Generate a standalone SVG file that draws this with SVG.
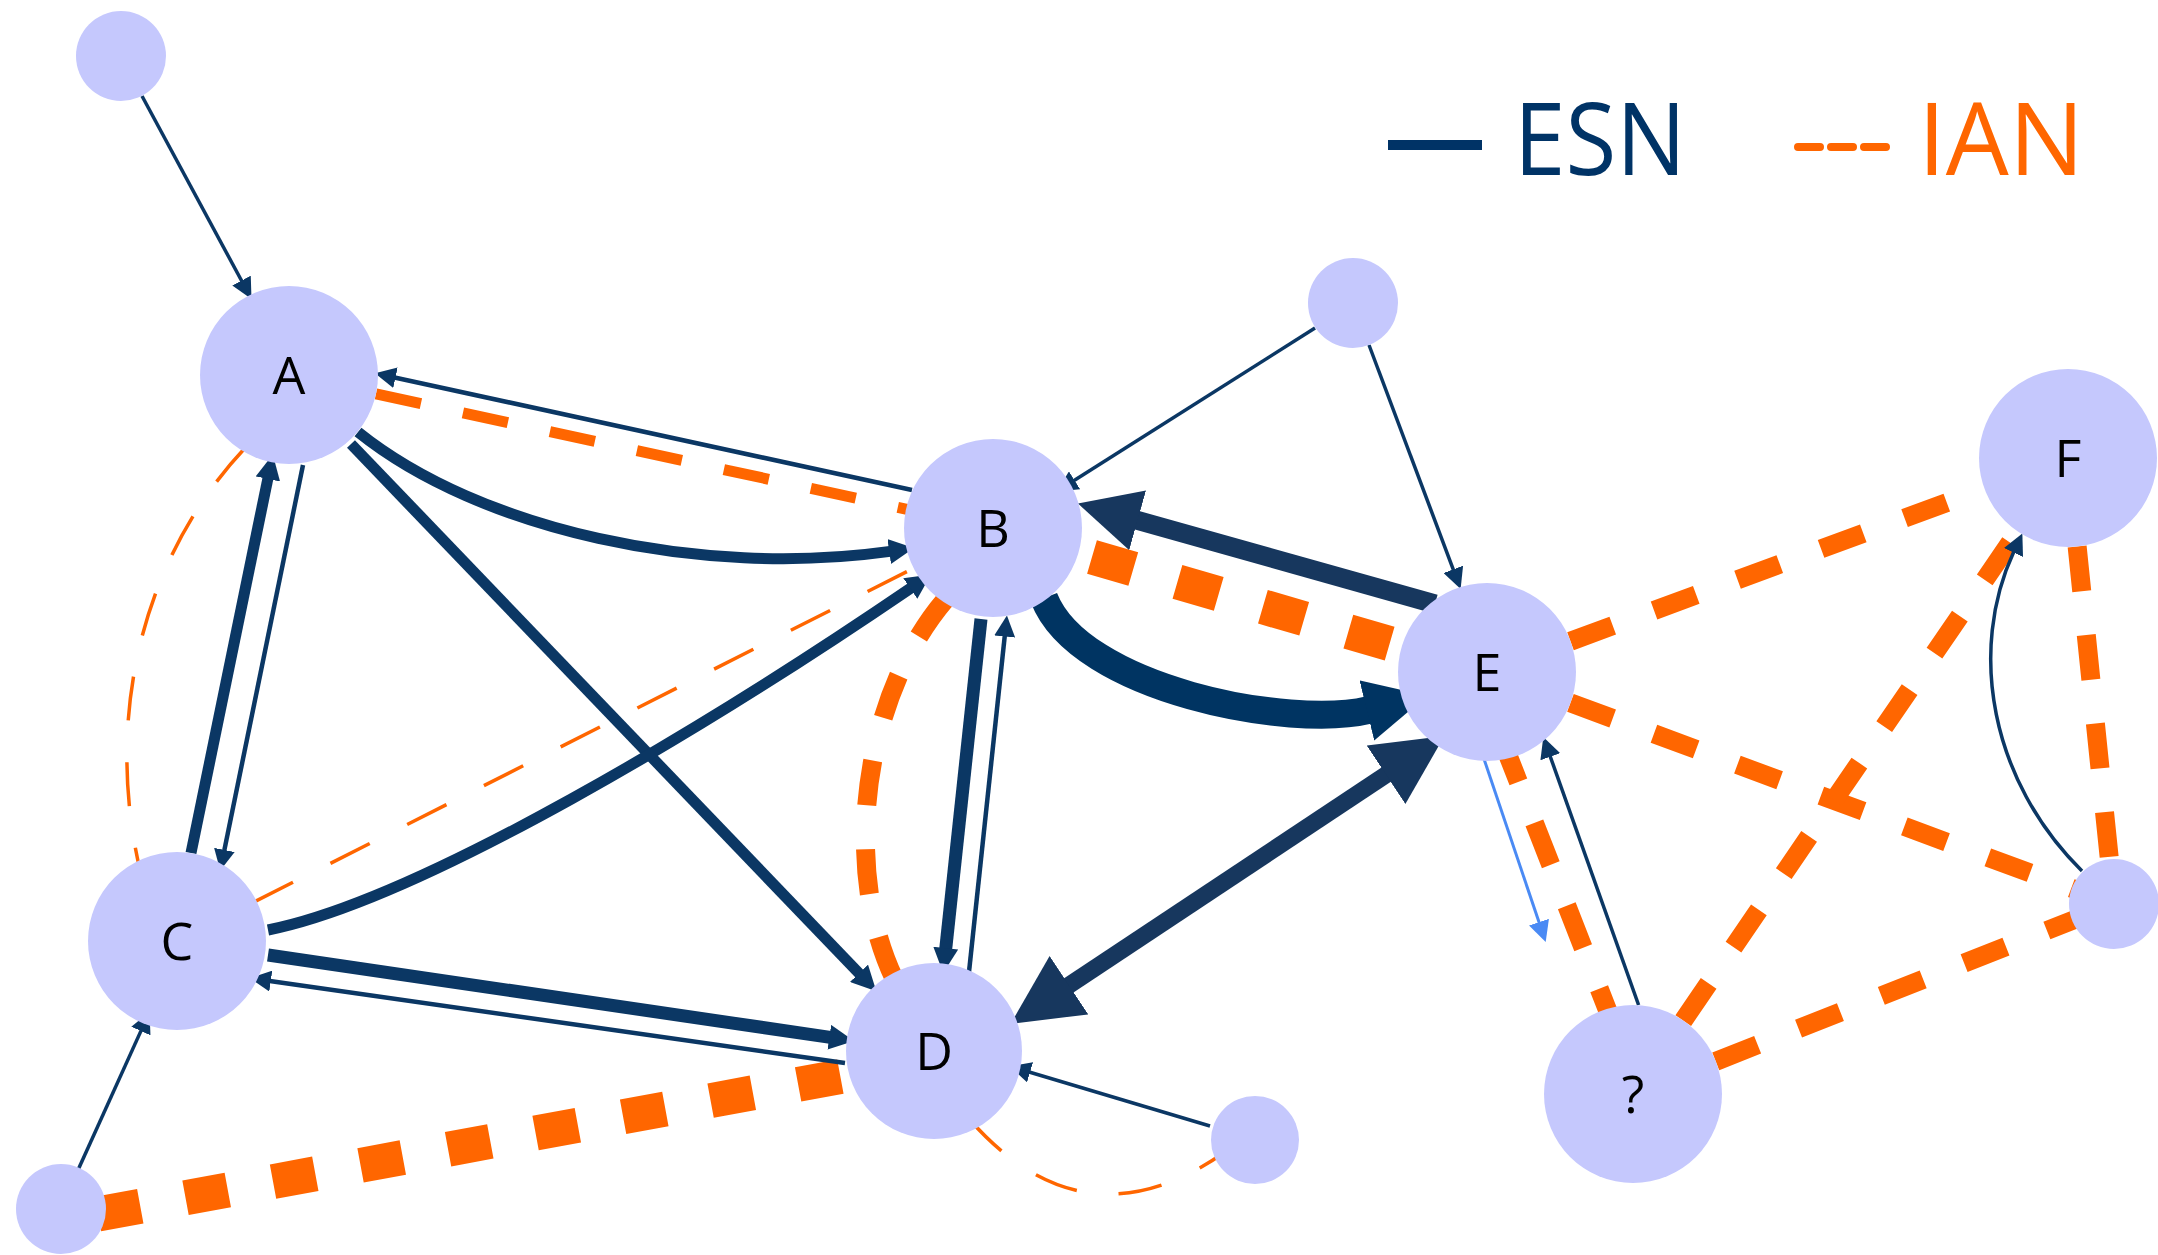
<svg xmlns="http://www.w3.org/2000/svg" width="2158" height="1255" viewBox="0 0 2158 1255">
<defs>
<style>
.node{fill:#c5c8fd}
.lbl{font-family:"Open Sans","DejaVu Sans",sans-serif;font-size:52px;fill:#000;text-anchor:middle}
.leg{font-family:"Open Sans","DejaVu Sans",sans-serif;font-size:100px}
.ian{fill:none;stroke:#ff6600}
.t{stroke-width:3.5;stroke-dasharray:44 42}
.ab{stroke-width:11;stroke-dasharray:46 43}
.md{stroke-width:19;stroke-dasharray:45 44}
.bg{stroke-width:35;stroke-dasharray:43 46}
.esn{fill:none;stroke:#0b3764}
.s{stroke-width:3.5;marker-end:url(#ms)}
.s4{stroke-width:4.5;marker-end:url(#ms)}
.m{stroke-width:11;marker-end:url(#mm)}
</style>
<marker id="ms" markerUnits="userSpaceOnUse" markerWidth="21" markerHeight="21" viewBox="0 0 21 21" refX="1" refY="10.5" orient="auto"><path d="M0,0 L21,10.5 L0,21 z" fill="#0b3764"/></marker>
<marker id="mm" markerUnits="userSpaceOnUse" markerWidth="25" markerHeight="25" viewBox="0 0 25 25" refX="1" refY="12.5" orient="auto"><path d="M0,0 L25,12.5 L0,25 z" fill="#0b3764"/></marker>
<marker id="mb" markerUnits="userSpaceOnUse" markerWidth="21" markerHeight="21" viewBox="0 0 21 21" refX="1" refY="10.5" orient="auto"><path d="M0,0 L21,10.5 L0,21 z" fill="#4a8af4"/></marker>
<marker id="ml1" markerUnits="userSpaceOnUse" markerWidth="62" markerHeight="62" viewBox="0 0 62 62" refX="2" refY="31" orient="auto"><path d="M0,0 L62,31 L0,62 z" fill="#17375e"/></marker>
<marker id="ml2" markerUnits="userSpaceOnUse" markerWidth="62" markerHeight="62" viewBox="0 0 62 62" refX="2" refY="31" orient="auto"><path d="M0,0 L62,31 L0,62 z" fill="#003462"/></marker>
<marker id="ml3" markerUnits="userSpaceOnUse" markerWidth="70" markerHeight="70" viewBox="0 0 70 70" refX="2" refY="35" orient="auto-start-reverse"><path d="M0,0 L70,35 L0,70 z" fill="#17375e"/></marker>
</defs>
<rect width="2158" height="1255" fill="#fff"/>

<g id="legend">
<line x1="1388" y1="145" x2="1482" y2="145" stroke="#003366" stroke-width="10"/>
<text class="leg" x="1514" y="175" fill="#003366" textLength="172" lengthAdjust="spacingAndGlyphs">ESN</text>
<line x1="1798" y1="147" x2="1886" y2="147" stroke="#ff6600" stroke-width="8" stroke-linecap="round" stroke-dasharray="22 11"/>
<text class="leg" x="1918" y="175" fill="#ff6600" textLength="166" lengthAdjust="spacingAndGlyphs">IAN</text>
</g>

<g id="connectors">
<g id="ian-links">
<path class="ian ab" d="M289,375 L993,528"/>
<path class="ian t" d="M245,448 C140,560 105,720 140,870"/>
<path class="ian t" d="M177,941 L993,528"/>
<path class="ian md" d="M945,600 C860,700 840,880 900,990"/>
<path class="ian bg" d="M1092,557 L1487,672"/>
<path class="ian bg" d="M98,1214 L930,1060"/>
<path class="ian t" d="M970,1120 Q1085,1250 1225,1152"/>
<path class="ian md" d="M1487,672 L2068,458"/>
<path class="ian md" d="M1487,672 L2114,904"/>
<path class="ian md" d="M1633,1094 L2068,458"/>
<path class="ian md" d="M1633,1094 L2114,904"/>
<path class="ian md" d="M2068,458 L2114,904"/>
<path class="ian md" d="M1502,740 L1620,1042"/>
</g>
<g id="esn-links">
<path class="esn s" d="M142,96 L242,281.5"/>
<path class="esn s" d="M1315,328 L1073.7,480.8"/>
<path class="esn s" d="M1369,345 L1453.6,570.3"/>
<path class="esn s" d="M1210,1126 L1029.1,1072"/>
<path class="esn s" d="M78,1170 L141.3,1030.1"/>
<path class="esn s" d="M2082,871 C1990,780 1968,650 2013.9,551.6"/>
<path class="esn s4" d="M912,490 L394.5,377.5"/>
<path class="esn m" d="M358,432 C480,530 700,578 890.2,551.4"/>
<path class="esn m" d="M351,444 L859.7,974"/>
<path class="esn m" d="M191,853 L268,478"/>
<path class="esn s4" d="M303,465 L224.2,850.9"/>
<path class="esn m" d="M268,930 C420,900 710,725 911.1,587.9"/>
<path class="esn m" style="stroke-width:13" d="M268,955 L830.3,1037.4"/>
<path class="esn s4" d="M845,1063 L269.8,981"/>
<path class="esn m" style="stroke-width:13" d="M981,619 L945.7,949.1"/>
<path class="esn s4" d="M969,972 L1004.8,635.5"/>
<path fill="none" stroke="#17375e" stroke-width="19" marker-end="url(#ml1)" d="M1435,604 L1135.7,519.8"/>
<path fill="none" stroke="#003462" stroke-width="28" marker-end="url(#ml2)" d="M1044,598 C1080,690 1291,729 1368.8,710"/>
<path fill="none" stroke="#17375e" stroke-width="17" marker-start="url(#ml3)" marker-end="url(#ml3)" d="M1067.3,986.3 L1387.7,773.7"/>
<path fill="none" stroke="#4a8af4" stroke-width="3" marker-end="url(#mb)" d="M1483,756 L1539.3,923.1"/>
<path class="esn s" d="M1638.6,1005 L1550,755.8"/>
</g>
</g>

<g id="n-tl"><circle class="node" cx="121" cy="56" r="45"/></g>
<g id="n-A"><circle class="node" cx="289" cy="375" r="89"/><text class="lbl" x="289" y="394">A</text></g>
<g id="n-top"><circle class="node" cx="1353" cy="303" r="45"/></g>
<g id="n-B"><circle class="node" cx="993" cy="528" r="89"/><text class="lbl" x="993" y="547">B</text></g>
<g id="n-E"><circle class="node" cx="1487" cy="672" r="89"/><text class="lbl" x="1487" y="691">E</text></g>
<g id="n-F"><circle class="node" cx="2068" cy="458" r="89"/><text class="lbl" x="2068" y="477">F</text></g>
<g id="n-C"><circle class="node" cx="177" cy="941" r="89"/><text class="lbl" x="177" y="960">C</text></g>
<g id="n-D"><circle class="node" cx="934" cy="1051" r="88"/><text class="lbl" x="934" y="1070">D</text></g>
<g id="n-Q"><circle class="node" cx="1633" cy="1094" r="89"/><text class="lbl" x="1633" y="1113">?</text></g>
<g id="n-right"><circle class="node" cx="2114" cy="904" r="45"/></g>
<g id="n-bot"><circle class="node" cx="1255" cy="1140" r="44"/></g>
<g id="n-bl"><circle class="node" cx="61" cy="1209" r="45"/></g>
</svg>
